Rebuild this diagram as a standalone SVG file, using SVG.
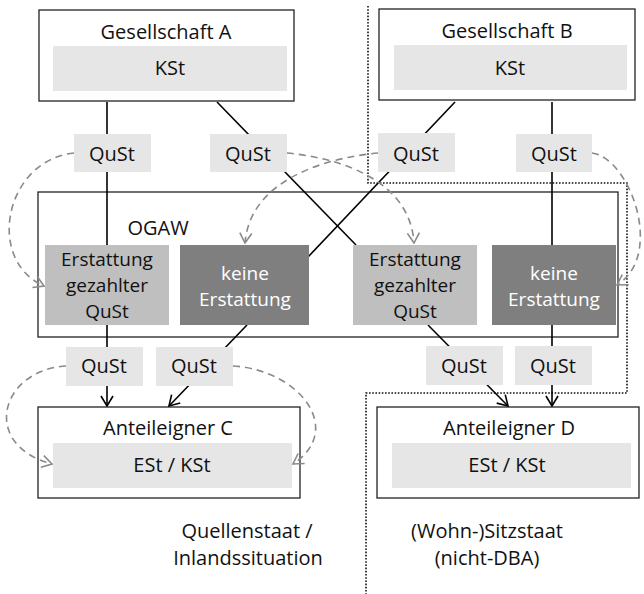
<svg xmlns="http://www.w3.org/2000/svg" width="644" height="594" viewBox="0 0 644 594">
<style>
text{font-family:"Open Sans","Noto Sans","Liberation Sans",sans-serif;font-size:20px;fill:#111;text-anchor:middle}
text.s{font-size:19px}
.frame{fill:none;stroke:#222;stroke-width:1.3}
.ogaw{fill:none;stroke:#222;stroke-width:1.3}
.light{fill:#e6e6e6}
.mid{fill:#bfbfbf}
.dark{fill:#7f7f7f}
.white{fill:#fff}
.solid{stroke:#000;stroke-width:1.6;fill:none}
.dash{stroke:#8a8a8a;stroke-width:1.6;fill:none;stroke-dasharray:7 5}
.dot{stroke:#111;stroke-width:1.6;fill:none;stroke-dasharray:1.6 1.6}
</style>
<defs>
<marker id="ab" viewBox="0 0 12 14" refX="11" refY="7" markerWidth="12" markerHeight="14" markerUnits="userSpaceOnUse" orient="auto">
<path d="M1,1 L11,7 L1,13" fill="none" stroke="#000" stroke-width="1.6"/>
</marker>
<marker id="ag" viewBox="0 0 12 14" refX="11" refY="7" markerWidth="12" markerHeight="14" markerUnits="userSpaceOnUse" orient="auto">
<path d="M1,1 L11,7 L1,13" fill="none" stroke="#8a8a8a" stroke-width="1.6"/>
</marker>
</defs>

<g id="region-border">
<path class="dot" d="M368,6 V183 H627 V393 H366 V594"/>
</g>

<g id="ogaw">
<rect class="ogaw" x="38" y="192" width="580" height="145"/>
<text x="158" y="235">OGAW</text>
</g>

<g id="gesellschaft-a">
<rect class="frame" x="39" y="10" width="255" height="91"/>
<rect class="light" x="53" y="46" width="234" height="45"/>
<text x="166" y="39">Gesellschaft A</text>
<text x="170" y="75">KSt</text>
</g>

<g id="gesellschaft-b">
<rect class="frame" x="379" y="9" width="256" height="91"/>
<rect class="light" x="394" y="45" width="233" height="45"/>
<text x="507" y="38">Gesellschaft B</text>
<text x="510" y="75">KSt</text>
</g>

<g id="anteileigner-c">
<rect class="frame" x="38" y="407" width="262" height="91"/>
<rect class="light" x="53" y="443" width="239" height="45"/>
<text x="168" y="435">Anteileigner C</text>
<text x="172" y="472">ESt / KSt</text>
</g>
<g id="anteileigner-d">
<rect class="frame" x="377" y="407" width="262" height="91"/>
<rect class="light" x="392" y="443" width="239" height="45"/>
<text x="509" y="435">Anteileigner D</text>
<text x="507" y="472">ESt / KSt</text>
</g>

<g id="connectors">
<line class="solid" x1="107" y1="102" x2="107" y2="245"/>
<line class="solid" x1="217" y1="102" x2="356" y2="245"/>
<line class="solid" x1="455" y1="102" x2="308" y2="257"/>
<line class="solid" x1="552" y1="102" x2="552" y2="245"/>
<line class="solid" x1="107" y1="325" x2="107" y2="406" marker-end="url(#ab)"/>
<line class="solid" x1="247" y1="325" x2="169" y2="406" marker-end="url(#ab)"/>
<line class="solid" x1="428" y1="325" x2="508" y2="406" marker-end="url(#ab)"/>
<line class="solid" x1="552" y1="325" x2="552" y2="406" marker-end="url(#ab)"/>
<path class="dash" d="M74,153 C5,160 -15,260 44,286" marker-end="url(#ag)"/>
<path class="dash" d="M287,153 C340,158 410,180 414,243" marker-end="url(#ag)"/>
<path class="dash" d="M378,153 C325,158 250,180 245,243" marker-end="url(#ag)"/>
<path class="dash" d="M592,153 C630,158 665,255 617,285" marker-end="url(#ag)"/>
<path class="dash" d="M66,366 C0,370 -20,445 52,464" marker-end="url(#ag)"/>
<path class="dash" d="M233,366 C300,370 345,430 293,464" marker-end="url(#ag)"/>
</g>

<g id="qust-1"><rect class="light" x="74" y="134" width="77" height="38"/><text x="112" y="161">QuSt</text></g>
<g id="qust-2"><rect class="light" x="210" y="134" width="77" height="38"/><text x="248" y="161">QuSt</text></g>
<g id="qust-3"><rect class="light" x="378" y="133" width="77" height="39"/><text x="416" y="161">QuSt</text></g>
<g id="qust-4"><rect class="light" x="516" y="134" width="76" height="38"/><text x="554" y="161">QuSt</text></g>

<g id="erstattung-1">
<rect class="mid" x="45" y="245" width="124" height="80"/>
<text class="s" x="107" y="266">Erstattung</text>
<text class="s" x="107" y="292">gezahlter</text>
<text class="s" x="107" y="318">QuSt</text>
</g>
<g id="keine-erstattung-1">
<rect class="dark" x="180" y="245" width="129" height="80"/>
<text class="s white" x="245" y="280">keine</text>
<text class="s white" x="245" y="306">Erstattung</text>
</g>
<g id="erstattung-2">
<rect class="mid" x="353" y="245" width="124" height="80"/>
<text class="s" x="415" y="266">Erstattung</text>
<text class="s" x="415" y="292">gezahlter</text>
<text class="s" x="415" y="318">QuSt</text>
</g>
<g id="keine-erstattung-2">
<rect class="dark" x="492" y="245" width="124" height="80"/>
<text class="s white" x="554" y="280">keine</text>
<text class="s white" x="554" y="306">Erstattung</text>
</g>

<g id="qust-5"><rect class="light" x="66" y="347" width="77" height="39"/><text x="104" y="373">QuSt</text></g>
<g id="qust-6"><rect class="light" x="156" y="347" width="77" height="39"/><text x="194" y="373">QuSt</text></g>
<g id="qust-7"><rect class="light" x="426" y="346" width="77" height="39"/><text x="464" y="373">QuSt</text></g>
<g id="qust-8"><rect class="light" x="515" y="346" width="77" height="39"/><text x="553" y="373">QuSt</text></g>

<g id="labels">
<text x="247" y="538">Quellenstaat /</text>
<text x="248" y="565">Inlandssituation</text>
<text x="487" y="538">(Wohn-)Sitzstaat</text>
<text x="487" y="565">(nicht-DBA)</text>
</g>
</svg>
